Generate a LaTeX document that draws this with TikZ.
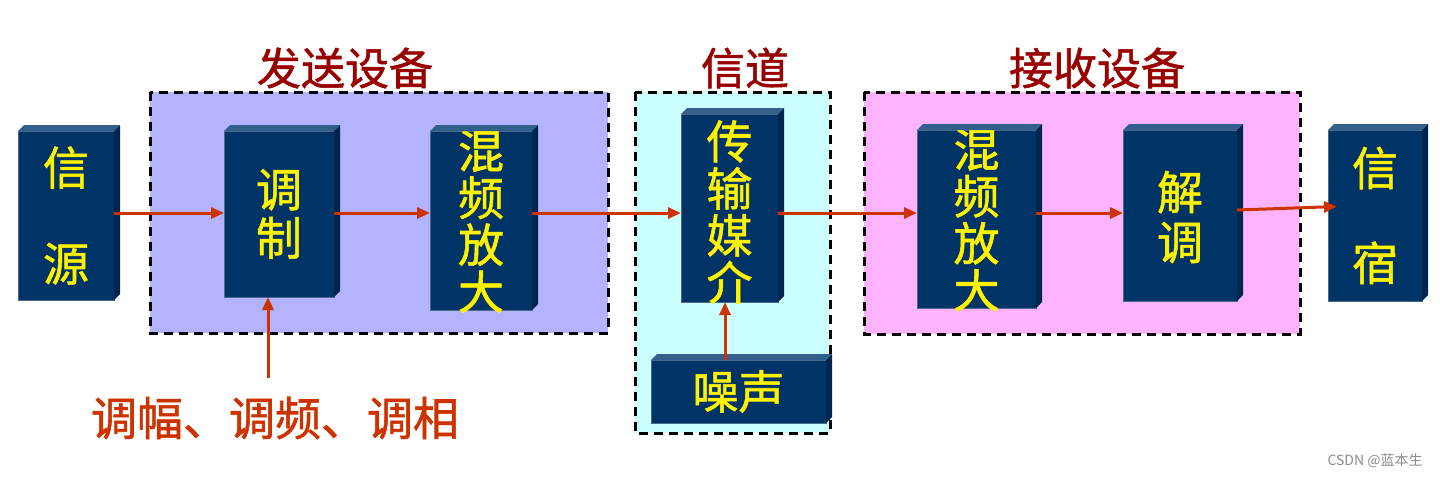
\documentclass[tikz,border=0pt]{standalone}
\usepackage{fontspec}
\setmainfont{Noto Sans CJK SC}
\newfontfamily\medfont{Noto Sans CJK SC}[FakeBold=1.2]
\usetikzlibrary{arrows.meta}
\definecolor{navy}{HTML}{003366}
\definecolor{navyedge}{HTML}{4A6A8C}
\definecolor{topc}{HTML}{335F8C}
\definecolor{sidec}{HTML}{00264D}
\definecolor{txfill}{HTML}{B3B3FF}
\definecolor{chfill}{HTML}{CCFFFF}
\definecolor{rxfill}{HTML}{FFB3FF}
\definecolor{titlered}{HTML}{990000}
\definecolor{arrred}{HTML}{CC3300}
\newcommand\bevel[1]{%
  \fill[topc] (#1.north west) -- ([shift={(6,-6)}]#1.north west) -- ([shift={(6,-6)}]#1.north east) -- (#1.north east) -- cycle;
  \fill[sidec] (#1.north east) -- ([shift={(6,-6)}]#1.north east) -- ([shift={(6,-6)}]#1.south east) -- (#1.south east) -- cycle;}
\tikzset{
  blk/.style={fill=navy, draw=navyedge, line width=0.5, inner sep=0, outer sep=0},
  txt/.style={text=yellow, font=\medfont\fontsize{46}{47}\selectfont, align=center, inner sep=0},
  grp/.style={draw=black, line width=3, dash pattern=on 9pt off 6pt},
  ttl/.style={text=titlered, font=\medfont\fontsize{44}{44}\selectfont, inner sep=0},
  arr/.style={draw=arrred, line width=3, -{Triangle[length=13pt,width=11pt]}},
}
\begin{document}
\begin{tikzpicture}[x=1pt,y=-1pt]
\useasboundingbox (0,0) rectangle (1440,477);
% groups
\draw[grp, fill=txfill] (150,92) rectangle (608,333);
\draw[grp, fill=chfill] (635,92) rectangle (830,433);
\draw[grp, fill=rxfill] (864,92) rectangle (1300,334);
\node[ttl] (ttx) at (345,68) {发送设备};
\node[ttl] (tch) at (745,68) {信道};
\node[ttl] (trx) at (1097,68) {接收设备};
% blocks
\node[blk, minimum width=96, minimum height=169,
  label={[txt, font=\medfont\fontsize{46}{96}\selectfont]center:{信\\源}}] (src) at (66,215.5) {};
\node[blk, minimum width=110, minimum height=166,
  label={[txt, font=\medfont\fontsize{46}{48.5}\selectfont]center:{调\\制}}] (mod) at (279,214) {};
\node[blk, minimum width=102, minimum height=179,
  label={[txt, yshift=-1pt]center:{混\\频\\放\\大}}] (amp1) at (481,220.5) {};
\node[blk, minimum width=97, minimum height=188,
  label={[txt, yshift=-4pt]center:{传\\输\\媒\\介}}] (med) at (729.5,208) {};
\node[blk, minimum width=175, minimum height=63,
  label={[txt]center:{噪声}}] (noise) at (738.5,391.5) {};
\node[blk, minimum width=119, minimum height=178,
  label={[txt, yshift=-1pt]center:{混\\频\\放\\大}}] (amp2) at (976.5,219) {};
\node[blk, minimum width=114, minimum height=171,
  label={[txt, font=\medfont\fontsize{46}{50}\selectfont, yshift=-1.5pt]center:{解\\调}}] (dem) at (1180,215.5) {};
\node[blk, minimum width=94, minimum height=171,
  label={[txt, font=\medfont\fontsize{46}{95}\selectfont]center:{信\\宿}}] (sink) at (1375,215.5) {};
\bevel{src}\bevel{mod}\bevel{amp1}\bevel{med}\bevel{noise}\bevel{amp2}\bevel{dem}\bevel{sink}
% labels
\node[text=arrred, font=\medfont\fontsize{46}{46}\selectfont, inner sep=0] (am) at (275,418) {调幅、调频、调相};
\node[text=black!45, font=\fontsize{14}{14}\selectfont, inner sep=0] (wm) at (1375,461) {CSDN @蓝本生};
% connectors
\coordinate (yl) at (0,213);
\draw[arr] (src.east |- yl) -- (mod.west |- yl);
\draw[arr] (mod.east |- yl) -- (amp1.west |- yl);
\draw[arr] (amp1.east |- yl) -- (med.west |- yl);
\draw[arr] (med.east |- yl) -- (amp2.west |- yl);
\draw[arr] (amp2.east |- yl) -- (dem.west |- yl);
\coordinate (ds) at (0,210);
\coordinate (de) at (1337,206.5);
\draw[arr] (dem.east |- ds) -- (de);
\coordinate (amtop) at (268,378);
\draw[arr] (amtop) -- (mod.south -| amtop);
\coordinate (nx) at (725,0);
\draw[arr] (noise.north -| nx) -- (med.south -| nx);
\end{tikzpicture}
\end{document}
